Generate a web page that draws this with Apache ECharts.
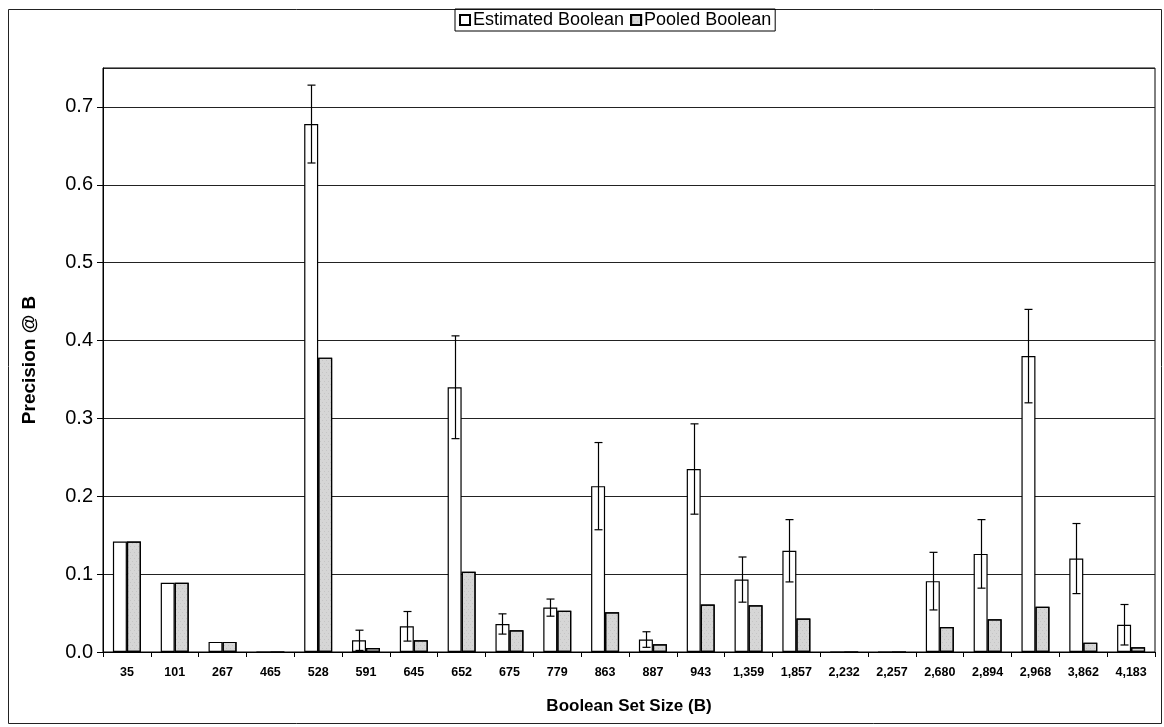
<!DOCTYPE html>
<html>
<head>
<meta charset="utf-8">
<script src="https://cdn.jsdelivr.net/npm/echarts@6/dist/echarts.min.js"></script>
<style>
html,body{margin:0;padding:0;background:#ffffff;}
#chart{width:1164px;height:727px;}
</style>
</head>
<body>
<div id="chart"></div>
<script>
const categories = ['35','101','267','465','528','591','645','652','675','779','863','887','943','1,359','1,857','2,232','2,257','2,680','2,894','2,968','3,862','4,183'];
const estimated = [0.142,0.089,0.013,0,0.678,0.015,0.033,0.340,0.036,0.057,0.213,0.016,0.235,0.093,0.130,0,0,0.091,0.126,0.380,0.120,0.035];
const pooled    = [0.142,0.089,0.013,0,0.378,0.005,0.015,0.103,0.028,0.053,0.051,0.010,0.061,0.060,0.043,0,0,0.032,0.042,0.058,0.012,0.006];
const estimatedErr = [0,0,0,0,0.050,0.013,0.019,0.066,0.013,0.011,0.056,0.010,0.058,0.029,0.040,0,0,0.037,0.044,0.060,0.045,0.026];

const BAR_W = 14;
const FONT = 'Liberation Sans, Arial, sans-serif';

const errData = categories.map((c, i) => [i, estimated[i], estimatedErr[i]]);

const chart = echarts.init(document.getElementById('chart'), null, {renderer: 'canvas'});
chart.setOption({
  backgroundColor: '#ffffff',
  animation: false,
  graphic: [{
    type: 'rect', shape: {x: 8.5, y: 9.5, width: 1153, height: 714},
    style: {fill: 'none', stroke: '#222', lineWidth: 1}, z: -1
  }],
  legend: {
    top: 9, left: 455,
    data: ['Estimated Boolean', 'Pooled Boolean'],
    itemWidth: 10, itemHeight: 10, itemGap: 6,
    icon: 'rect',
    borderColor: '#000', borderWidth: 1, borderRadius: 0,
    padding: [2, 4, 2, 4],
    textStyle: {fontFamily: FONT, fontSize: 18, color: '#000', padding: [0, 0, 0, -2]}
  },
  grid: {
    left: 103, right: 9, top: 68, bottom: 75,
    show: true, borderColor: '#000', borderWidth: 1, backgroundColor: 'transparent'
  },
  xAxis: {
    type: 'category',
    data: categories,
    name: 'Boolean Set Size (B)',
    nameLocation: 'middle', nameGap: 46,
    nameTextStyle: {fontFamily: FONT, fontSize: 17, fontWeight: 'bold', color: '#000'},
    axisLine: {lineStyle: {color: '#000', width: 1}},
    axisTick: {show: true, inside: false, length: 5, lineStyle: {color: '#000'}},
    axisLabel: {fontFamily: FONT, fontSize: 12.5, fontWeight: 'bold', color: '#000', margin: 14, interval: 0},
    splitLine: {show: false}
  },
  yAxis: {
    type: 'value',
    min: 0, max: 0.75, interval: 0.1,
    name: 'Precision @ B',
    nameLocation: 'middle', nameGap: 64,
    nameTextStyle: {fontFamily: FONT, fontSize: 19, fontWeight: 'bold', color: '#000'},
    axisLine: {show: true, lineStyle: {color: '#000'}},
    axisTick: {show: true, length: 6, lineStyle: {color: '#000'}},
    axisLabel: {fontFamily: FONT, fontSize: 20, color: '#000', margin: 10, showMaxLabel: false,
      formatter: v => v.toFixed(1)},
    splitLine: {show: true, lineStyle: {color: '#222', width: 1}}
  },
  series: [
    {
      name: 'Estimated Boolean', type: 'bar', data: estimated,
      barWidth: BAR_W, barGap: '0%',
      itemStyle: {color: '#ffffff', borderColor: '#000', borderWidth: 1.2}
    },
    {
      name: 'Pooled Boolean', type: 'bar', data: pooled,
      barWidth: BAR_W, barGap: '0%',
      itemStyle: {
        color: '#d6d6d6', borderColor: '#000', borderWidth: 1.2,
        decal: {symbol: 'rect', symbolSize: 0.6, dashArrayX: [[1, 3], [0, 2, 1, 1]], dashArrayY: [1, 2], rotation: 0, color: 'rgba(90,90,90,0.45)'}
      }
    },
    {
      name: 'err', type: 'custom', data: errData, z: 10,
      renderItem: function (params, api) {
        const i = api.value(0), v = api.value(1), e = api.value(2);
        if (!e) return null;
        const x = Math.round(api.coord([i, 0])[0] - BAR_W / 2) + 0.5;
        const yHi = api.coord([i, v + e])[1];
        const yLo = api.coord([i, v - e])[1];
        const cap = 4;
        const st = {stroke: '#000', lineWidth: 1.2};
        return {
          type: 'group',
          children: [
            {type: 'line', shape: {x1: x, y1: yHi, x2: x, y2: yLo}, style: st},
            {type: 'line', shape: {x1: x - cap, y1: yHi, x2: x + cap, y2: yHi}, style: st},
            {type: 'line', shape: {x1: x - cap, y1: yLo, x2: x + cap, y2: yLo}, style: st}
          ]
        };
      }
    }
  ]
});
</script>
</body>
</html>
